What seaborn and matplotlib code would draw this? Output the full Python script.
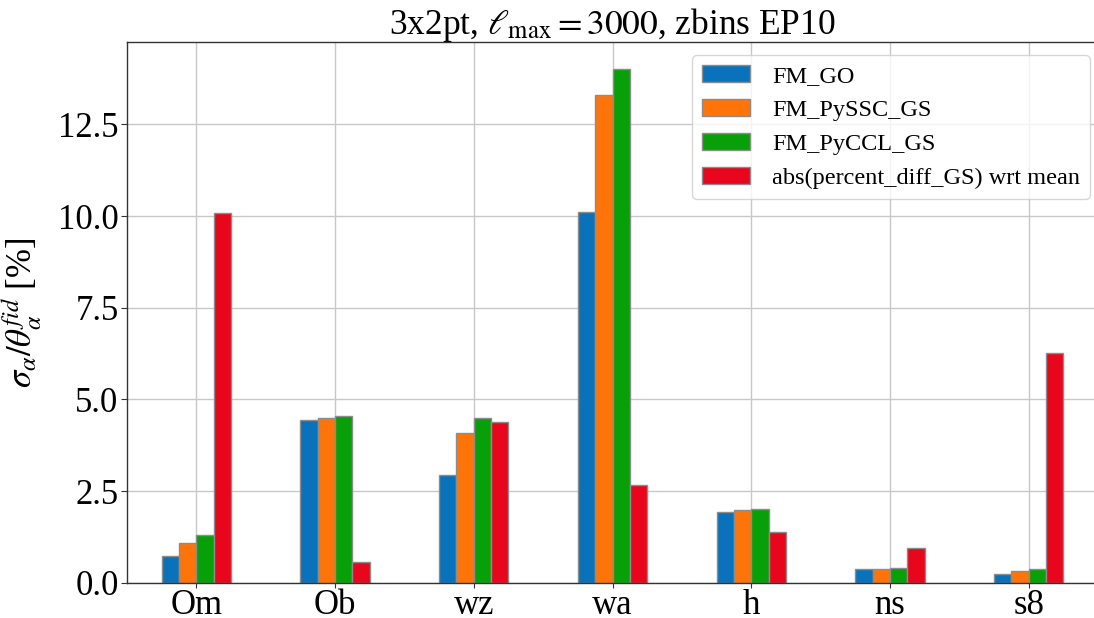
import matplotlib
matplotlib.use("Agg")
import matplotlib.pyplot as plt
import seaborn as sns
import pandas as pd
from matplotlib.ticker import MultipleLocator

params = ["Om", "Ob", "wz", "wa", "h", "ns", "s8"]
fm_go = [0.74, 4.43, 2.94, 10.10, 1.94, 0.38, 0.23]
fm_pyssc = [1.07, 4.49, 4.09, 13.31, 1.97, 0.38, 0.32]
fm_pyccl = [1.30, 4.55, 4.48, 14.02, 2.02, 0.40, 0.37]
abs_diff = [10.08, 0.57, 4.39, 2.66, 1.37, 0.94, 6.27]
series_names = ["FM_GO", "FM_PySSC_GS", "FM_PyCCL_GS", "abs(percent_diff_GS) wrt mean"]
colors = ["#0A72BA", "#FF7408", "#08A008", "#E8061C"]

rows = []
for name, vals in zip(series_names, [fm_go, fm_pyssc, fm_pyccl, abs_diff]):
    for p, v in zip(params, vals):
        rows.append({"param": p, "value": v, "series": name})
df = pd.DataFrame(rows)

sns.set_style("whitegrid")
plt.rcParams["font.family"] = ["Liberation Serif", "DejaVu Serif"]
plt.rcParams["mathtext.fontset"] = "stix"
plt.rcParams["text.color"] = "black"
plt.rcParams["axes.labelcolor"] = "black"
plt.rcParams["xtick.color"] = "black"
plt.rcParams["ytick.color"] = "black"

fig = plt.figure(figsize=(10.94, 6.18), dpi=100)
W, H = 1094, 618
left, right, top, bottom = 127, 1098, 42.3, 582.7
ax = fig.add_axes([left / W, 1 - bottom / H, (right - left) / W, (bottom - top) / H])

sns.barplot(data=df, x="param", y="value", hue="series", order=params,
            hue_order=series_names, palette=colors, width=0.5, gap=0,
            edgecolor="#8c8c8c", linewidth=1.0, saturation=1, ax=ax, errorbar=None)

ax.set_xlim(-0.5, len(params) - 0.5)
ax.set_ylim(0, 14.74)
ax.yaxis.set_major_locator(MultipleLocator(2.5))
ax.yaxis.set_major_formatter(matplotlib.ticker.FormatStrFormatter("%.1f"))
ax.grid(True, axis="both", color="#c8c8c8", linewidth=1.0)
ax.set_axisbelow(True)
for s in ax.spines.values():
    s.set_color("#333333")
    s.set_linewidth(1.0)
ax.tick_params(axis="y", labelsize=25, length=4, color="#333333", direction="out",
               left=True, pad=2, labelcolor="black")
ax.tick_params(axis="x", labelsize=25, length=3.5, color="#333333", direction="out",
               bottom=True, pad=1, labelcolor="black")
ax.set_xlabel("")
ax.set_ylabel(r"$\sigma_\alpha/\theta^{fid}_\alpha$ [%]", fontsize=25, labelpad=10,
              color="black")
ax.set_title(r"3x2pt, $\ell_{\rm max} = 3000$, zbins EP10", fontsize=25.5, pad=6,
             color="black")

leg = ax.legend(loc="upper right", bbox_to_anchor=(1090 / W, 1 - 55 / H),
                bbox_transform=fig.transFigure, borderaxespad=0, fontsize=17.5,
                frameon=True, framealpha=0.8, edgecolor="#cccccc", fancybox=True,
                handletextpad=0.9, title=None)
for t in leg.get_texts():
    t.set_color("black")

fig.savefig("out.png", dpi=100)
